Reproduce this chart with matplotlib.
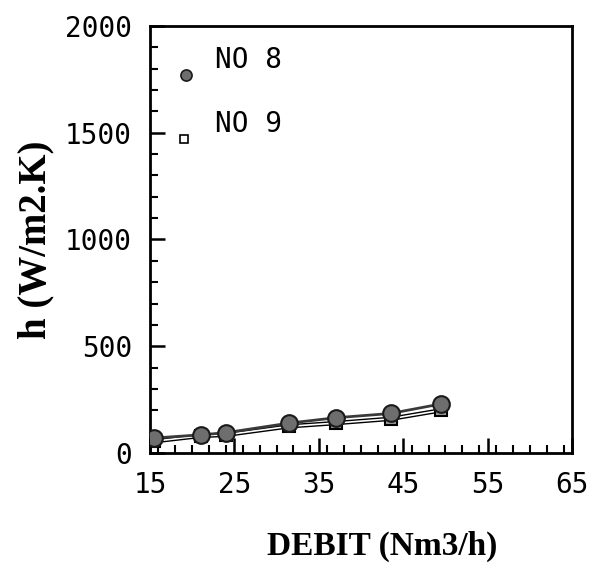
import matplotlib
matplotlib.use("Agg")
import matplotlib.pyplot as plt
from matplotlib.ticker import MultipleLocator

# Heat transfer coefficient vs gas flow rate
debit_no8 = [15.5, 21.0, 24.0, 31.5, 37.0, 43.5, 49.5]
h_no8 = [70, 85, 95, 140, 165, 185, 230]
debit_no9 = [15.5, 21.0, 24.0, 31.5, 37.0, 43.5, 49.5]
h_no9 = [55, 80, 85, 125, 140, 160, 200]
series_labels = ["NO 8", "NO 9"]
x_ticks = [15, 25, 35, 45, 55, 65]
y_ticks = [0, 500, 1000, 1500, 2000]

fig = plt.figure(figsize=(5.99, 5.69), dpi=100)
ax = fig.add_axes([0.2504, 0.2039, 0.7046, 0.7504])

# NO 9: hollow line with open squares
ax.plot(debit_no9, h_no9, color="black", lw=3.2, zorder=2, solid_capstyle="butt")
ax.plot(debit_no9, h_no9, color="white", lw=1.2, zorder=2.1)
ax.plot(debit_no9, h_no9, ls="none", marker="s", ms=9, mfc="#9a9a9a",
        mec="black", mew=1.5, zorder=3)
# NO 8: solid line with filled circles
ax.plot(debit_no8, h_no8, color="#3a3a3a", lw=2, zorder=4)
ax.plot(debit_no8, h_no8, ls="none", marker="o", ms=12, mfc="#6e6e6e",
        mec="#1a1a1a", mew=1.5, zorder=5)

ax.set_xlim(15, 65)
ax.set_ylim(0, 2000)
ax.set_xticks(x_ticks)
ax.set_yticks(y_ticks)
ax.xaxis.set_minor_locator(MultipleLocator(2))
ax.yaxis.set_minor_locator(MultipleLocator(100))

mono = "DejaVu Sans Mono"
ax.tick_params(which="major", direction="in", length=11, width=1.8,
               labelsize=20, pad=13)
ax.tick_params(which="minor", direction="in", length=6, width=1.5)
for lab in ax.get_xticklabels() + ax.get_yticklabels():
    lab.set_fontfamily(mono)
for sp in ax.spines.values():
    sp.set_linewidth(2)

ax.set_xlabel("DEBIT (Nm3/h)", fontfamily="Liberation Serif", fontweight="bold",
              fontsize=24)
ax.set_ylabel("h (W/m2.K)", fontfamily="Liberation Serif", fontweight="bold",
              fontsize=28)
ax.xaxis.label.set_va("center")
ax.yaxis.label.set_va("center")
ax.xaxis.set_label_coords(0.55, -0.218)
ax.yaxis.set_label_coords(-0.27, 0.5)

# Legend drawn inside the frame
ax.plot([0.085], [0.885], transform=ax.transAxes, marker="o", ms=8,
        mfc="#6e6e6e", mec="#1a1a1a", mew=1.2, clip_on=False)
ax.plot([0.08], [0.735], transform=ax.transAxes, marker="s", ms=6,
        mfc="white", mec="black", mew=1.2, clip_on=False)
ax.text(0.155, 0.92, series_labels[0], transform=ax.transAxes,
        fontfamily=mono, fontsize=20, va="center", ha="left")
ax.text(0.155, 0.77, series_labels[1], transform=ax.transAxes,
        fontfamily=mono, fontsize=20, va="center", ha="left")

fig.savefig("out.png", dpi=100, facecolor="white")
